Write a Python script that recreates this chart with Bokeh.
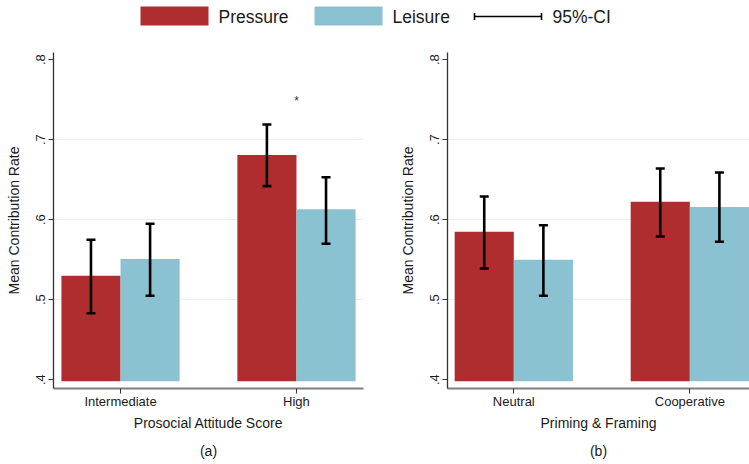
from bokeh.plotting import figure
from bokeh.layouts import column, row
from bokeh.models import (ColumnDataSource, Range1d, FixedTicker, Whisker, TeeHead, Title)
from bokeh.core.properties import value
from bokeh.embed import file_html
from bokeh.resources import INLINE

# ---- data -------------------------------------------------------------
series_names = ["Pressure", "Leisure"]
ci_label = "95%-CI"

groups_a = ["Intermediate", "High"]
pressure_a = [0.530, 0.681]
pressure_a_lo = [0.483, 0.642]
pressure_a_hi = [0.575, 0.719]
leisure_a = [0.551, 0.613]
leisure_a_lo = [0.505, 0.570]
leisure_a_hi = [0.595, 0.653]
signif_a = ["", "*"]
signif_a_y = [0.0, 0.748]

groups_b = ["Neutral", "Cooperative"]
pressure_b = [0.585, 0.6225]
pressure_b_lo = [0.539, 0.579]
pressure_b_hi = [0.629, 0.664]
leisure_b = [0.550, 0.616]
leisure_b_lo = [0.505, 0.5725]
leisure_b_hi = [0.593, 0.659]

y_ticks = [0.4, 0.5, 0.6, 0.7, 0.8]
y_tick_labels = [".4", ".5", ".6", ".7", ".8"]
bar_base = 0.398

# ---- style ------------------------------------------------------------
FONT = "Liberation Sans"
TXT = "#1a1a1a"
C_PRESSURE = "#AF2D2E"
C_LEISURE = "#8BC2D1"
GRID = "#E8F0F1"
DODGE = 0.168
BAR_W = 0.336


def panel(groups, p_mean, p_lo, p_hi, l_mean, l_lo, l_hi, xlabel, caption,
          width, frame_width, x_start, x_end, border_left, border_right):
    p = figure(width=width, height=419, frame_width=frame_width, frame_height=336,
               x_range=Range1d(x_start, x_end), y_range=Range1d(0.389, 0.809),
               toolbar_location=None, output_backend="svg",
               min_border_left=border_left, min_border_right=border_right,
               min_border_top=7, min_border_bottom=76)
    p.outline_line_color = None
    p.background_fill_color = "white"
    p.border_fill_color = "white"

    xs = list(range(1, len(groups) + 1))
    xp = [x - DODGE for x in xs]
    xl = [x + DODGE for x in xs]

    src_p = ColumnDataSource(dict(x=xp, top=p_mean, lo=p_lo, hi=p_hi))
    src_l = ColumnDataSource(dict(x=xl, top=l_mean, lo=l_lo, hi=l_hi))

    p.vbar(x="x", top="top", bottom=bar_base, width=BAR_W, source=src_p,
           fill_color=C_PRESSURE, line_color=None)
    p.vbar(x="x", top="top", bottom=bar_base, width=BAR_W, source=src_l,
           fill_color=C_LEISURE, line_color=None)

    # confidence intervals drawn on top of the bars
    for src in (src_p, src_l):
        w = Whisker(base="x", upper="hi", lower="lo", source=src, level="overlay",
                    line_color="black", line_width=2.6,
                    upper_head=TeeHead(size=9, line_width=2.6, line_color="black"),
                    lower_head=TeeHead(size=9, line_width=2.6, line_color="black"))
        p.add_layout(w)

    # axes
    p.xaxis.ticker = FixedTicker(ticks=xs)
    p.xaxis.major_label_overrides = {x: g for x, g in zip(xs, groups)}
    p.xaxis.minor_tick_line_color = None
    p.xaxis.major_tick_out = 5
    p.xaxis.major_tick_in = 0
    p.xaxis.major_tick_line_color = "#333333"
    p.xaxis.axis_line_color = "#7f7f7f"
    p.xaxis.axis_line_width = 2
    p.xaxis.major_label_text_font = FONT
    p.xaxis.major_label_text_font_size = "13px"
    p.xaxis.major_label_text_color = TXT
    p.xaxis.major_label_standoff = 0
    p.xaxis.axis_label = xlabel
    p.xaxis.axis_label_text_font = FONT
    p.xaxis.axis_label_text_font_size = "14px"
    p.xaxis.axis_label_text_font_style = "normal"
    p.xaxis.axis_label_text_color = TXT
    p.xaxis.axis_label_standoff = 3

    p.yaxis.ticker = FixedTicker(ticks=y_ticks)
    p.yaxis.major_label_overrides = {t: s for t, s in zip(y_ticks, y_tick_labels)}
    p.yaxis.minor_tick_line_color = None
    p.yaxis.major_tick_out = 5
    p.yaxis.major_tick_in = 0
    p.yaxis.major_tick_line_color = "#333333"
    p.yaxis.axis_line_color = "#333333"
    p.yaxis.axis_line_width = 1.3
    p.yaxis.major_label_orientation = "vertical"
    p.yaxis.major_label_text_font = FONT
    p.yaxis.major_label_text_font_size = "13px"
    p.yaxis.major_label_text_color = TXT
    p.yaxis.major_label_standoff = 3
    p.yaxis.axis_label = "Mean Contribution Rate"
    p.yaxis.axis_label_text_font = FONT
    p.yaxis.axis_label_text_font_size = "14px"
    p.yaxis.axis_label_text_font_style = "normal"
    p.yaxis.axis_label_text_color = TXT
    p.yaxis.axis_label_standoff = 12

    p.xgrid.grid_line_color = None
    p.ygrid.ticker = FixedTicker(ticks=y_ticks[1:-1])
    p.ygrid.grid_line_color = GRID
    p.ygrid.grid_line_width = 1.2
    p.ygrid.level = "underlay"

    cap = Title(text=caption, align="center", text_font=FONT, text_font_size="14px",
                text_font_style="normal", text_color=TXT, standoff=14)
    p.add_layout(cap, "below")
    return p, xs


p1, xs_a = panel(groups_a, pressure_a, pressure_a_lo, pressure_a_hi,
                 leisure_a, leisure_a_lo, leisure_a_hi,
                 "Prosocial Attitude Score", "(a)",
                 393, 310, 0.619, 2.381, 53, 30)
p1.text(x=xs_a, y=signif_a_y, text=signif_a, text_align="center",
        text_baseline="alphabetic", text_font=value(FONT), text_font_size="12px",
        text_color="#333333")

p2, xs_b = panel(groups_b, pressure_b, pressure_b_lo, pressure_b_hi,
                 leisure_b, leisure_b_lo, leisure_b_hi,
                 "Priming & Framing", "(b)",
                 356, 302, 0.6233, 2.339, 54, 0)

# ---- legend strip -----------------------------------------------------
lg = figure(width=749, height=45, x_range=Range1d(0, 749), y_range=Range1d(45, 0),
            toolbar_location=None, output_backend="svg", x_axis_type=None,
            y_axis_type=None, min_border=0)
lg.outline_line_color = None
lg.grid.visible = False
lg.quad(left=[140, 314], right=[208, 382], top=[6, 6], bottom=[25, 25],
        fill_color=[C_PRESSURE, C_LEISURE], line_color=None)
lg.text(x=[218, 392, 552], y=[16.5, 16.5, 16.5], text=series_names + [ci_label],
        text_baseline="middle", text_font=value(FONT), text_font_size="17.5px",
        text_color=TXT)
lg.segment(x0=[474], y0=[16], x1=[541], y1=[16], line_color="black", line_width=1.4)
lg.segment(x0=[474, 541], y0=[12.5, 12.5], x1=[474, 541], y1=[19.5, 19.5],
           line_color="black", line_width=1.6)

layout = column(lg, row(p1, p2))

with open("out.html", "w") as f:
    f.write(file_html(layout, INLINE))
